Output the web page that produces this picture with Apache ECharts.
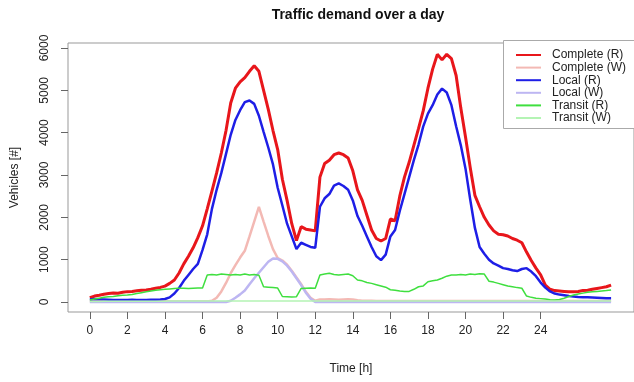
<!DOCTYPE html>
<html><head><meta charset="utf-8">
<script src="https://cdn.jsdelivr.net/npm/echarts@6/dist/echarts.min.js"></script>
<style>html,body{margin:0;padding:0;background:#fff}#c{width:634px;height:382px}</style>
</head><body><div id="c"></div>
<script>
// time in hours, 0.25 h step
const hours = [];
for (let i = 0; i < 112; i++) hours.push(i * 0.25);

const xTicks = [0,2,4,6,8,10,12,14,16,18,20,22,24];
const yTicks = [0,1000,2000,3000,4000,5000,6000];

const completeR = [100,140,160,185,200,215,205,230,245,250,265,280,285,300,325,345,375,440,520,685,900,1080,1280,1520,
1800,2200,2620,3050,3520,4050,4700,5050,5200,5300,5450,5580,5450,5000,4550,4050,3600,2900,2400,1850,1450,1780,1720,1700,
1680,2950,3270,3350,3480,3520,3480,3400,3100,2650,2400,2050,1700,1500,1440,1500,1960,1920,2500,2950,3300,3700,4100,4520,
5050,5500,5850,5720,5850,5750,5350,4580,3900,3180,2520,2250,2000,1820,1680,1600,1590,1560,1500,1460,1400,1180,980,800,
640,400,300,270,260,250,240,245,250,270,280,300,320,340,360,400];

const completeW = [15,15,15,15,15,15,15,15,15,15,15,15,15,15,15,15,15,15,15,15,15,15,15,15,
15,15,30,100,250,450,680,870,1050,1210,1550,1900,2250,1900,1560,1250,1040,980,880,740,580,420,240,100,
30,60,60,65,60,55,60,65,60,40,30,30,30,25,25,25,25,25,25,25,25,25,25,25,
25,25,25,25,25,25,25,25,25,25,25,25,25,25,25,25,25,25,25,25,25,25,25,25,
25,25,25,25,25,25,25,25,25,25,25,25,25,25,25,25];

const localR = [60,70,65,60,55,50,50,50,50,55,50,50,50,55,55,60,70,110,200,330,500,640,780,900,
1230,1600,2200,2650,3050,3500,3950,4300,4530,4720,4760,4680,4400,4020,3650,3250,2700,2280,1850,1550,1250,1400,1350,1300,
1280,2250,2450,2550,2750,2800,2740,2650,2400,2030,1800,1550,1300,1080,990,1120,1550,1700,2150,2550,2950,3350,3720,4150,
4450,4650,4900,5040,4950,4650,4150,3700,3150,2420,1750,1300,1140,1000,910,860,800,780,750,730,780,800,720,610,
460,340,250,200,175,160,140,130,120,115,110,105,100,95,90,90];

const localW = [0,0,0,0,0,0,0,0,0,0,0,0,0,0,0,0,0,0,0,0,0,0,0,0,
0,0,0,0,0,0,30,100,180,270,420,560,690,820,950,1030,1020,960,860,720,560,400,220,80,
0,0,0,0,0,0,0,0,0,0,0,0,0,0,0,0,0,0,0,0,0,0,0,0,
0,0,0,0,0,0,0,0,0,0,0,0,0,0,0,0,0,0,0,0,0,0,0,0,
0,0,0,0,0,0,0,0,0,0,0,0,0,0,0,0];

const transitR = [50,70,90,110,125,130,150,160,165,180,200,220,240,260,280,290,300,310,320,325,325,320,325,330,
330,640,650,640,660,650,640,650,640,660,640,650,630,360,350,340,330,130,125,120,125,320,325,330,
325,640,660,680,650,640,650,660,620,520,500,460,440,410,380,350,290,280,260,250,250,300,360,380,
480,500,520,560,610,640,640,650,640,660,650,670,660,490,470,440,410,380,360,340,325,140,110,90,
80,70,55,45,60,90,130,165,190,210,230,240,250,260,270,285];

const transitW = [10,12,14,15,15,16,16,17,18,18,18,19,19,20,20,20,20,21,21,22,22,22,22,22,
22,23,23,23,23,24,24,24,24,24,24,24,24,24,24,24,24,24,24,24,24,24,24,24,
24,24,24,24,24,24,24,24,24,24,24,24,24,24,24,24,24,24,24,24,24,24,24,24,
24,24,24,24,24,24,24,24,24,24,24,24,24,24,24,24,24,24,24,24,24,24,24,24,
24,24,24,24,24,24,24,24,24,24,24,24,24,24,24,24];

const pair = arr => hours.map((h, i) => [h, arr[i]]);
const FONT = "'Liberation Sans', Arial, sans-serif";

function mk(name, arr, color, width) {
  return { name, type: 'line', data: pair(arr), symbol: 'none', showSymbol: false,
    lineStyle: { color, width }, itemStyle: { color }, animation: false, z: 2 };
}

const chart = echarts.init(document.getElementById('c'), null, { renderer: 'canvas' });
chart.setOption({
  backgroundColor: '#fff',
  animation: false,
  title: { text: 'Traffic demand over a day', left: 353, top: 3, textAlign: 'center',
    textStyle: { fontFamily: FONT, fontSize: 14, fontWeight: 'bold', color: '#111' } },
  grid: { left: 68, right: -4, top: 43, bottom: 70, show: true, borderColor: '#999', borderWidth: 1 },
  graphic: [{
    type: 'rect', z: 5, silent: true,
    shape: { x: 503.5, y: 40.5, width: 200, height: 88 },
    style: { fill: '#fff', stroke: '#aaa', lineWidth: 1 }
  }],
  legend: {
    orient: 'vertical', left: 503, top: 40, itemWidth: 25, itemHeight: 12, itemGap: 0.6,
    padding: [9, 4, 8, 12], borderWidth: 0, z: 10,
    itemStyle: { opacity: 0 },
    textStyle: { fontFamily: FONT, fontSize: 12, color: '#222', lineHeight: 12, padding: [0, 0, 0, 6] },
    data: ['Complete (R)', 'Complete (W)', 'Local (R)', 'Local (W)', 'Transit (R)', 'Transit (W)']
  },
  xAxis: {
    type: 'value', min: -1.163, max: 28.97,
    name: 'Time [h]', nameLocation: 'middle', nameGap: 51,
    nameTextStyle: { fontFamily: FONT, fontSize: 12, color: '#222' },
    axisLine: { show: false, onZero: false },
    axisTick: { show: true, length: 7, inside: false, customValues: xTicks, lineStyle: { color: '#666' } },
    axisLabel: { customValues: xTicks, margin: 13, fontFamily: FONT, fontSize: 12, color: '#222' },
    splitLine: { show: false }
  },
  yAxis: {
    type: 'value', min: -236, max: 6118,
    name: 'Vehicles [#]', nameLocation: 'middle', nameGap: 47, nameRotate: 90,
    nameTextStyle: { fontFamily: FONT, fontSize: 12, color: '#222' },
    axisLine: { show: false, onZero: false },
    axisTick: { show: true, length: 7, inside: false, customValues: yTicks, lineStyle: { color: '#666' } },
    axisLabel: { customValues: yTicks, rotate: 90, margin: 17, fontFamily: FONT, fontSize: 12, color: '#222',
      formatter: v => String(v) },
    splitLine: { show: false }
  },
  series: [
    mk('Complete (R)', completeR, '#e8161b', 3),
    mk('Complete (W)', completeW, '#f3b9b4', 2.5),
    mk('Local (R)', localR, '#1e1ee6', 2.5),
    mk('Local (W)', localW, '#bdb6f2', 2.5),
    mk('Transit (R)', transitR, '#3fdf3f', 1.5),
    mk('Transit (W)', transitW, '#b4f4b4', 1.5)
  ]
});
</script></body></html>
